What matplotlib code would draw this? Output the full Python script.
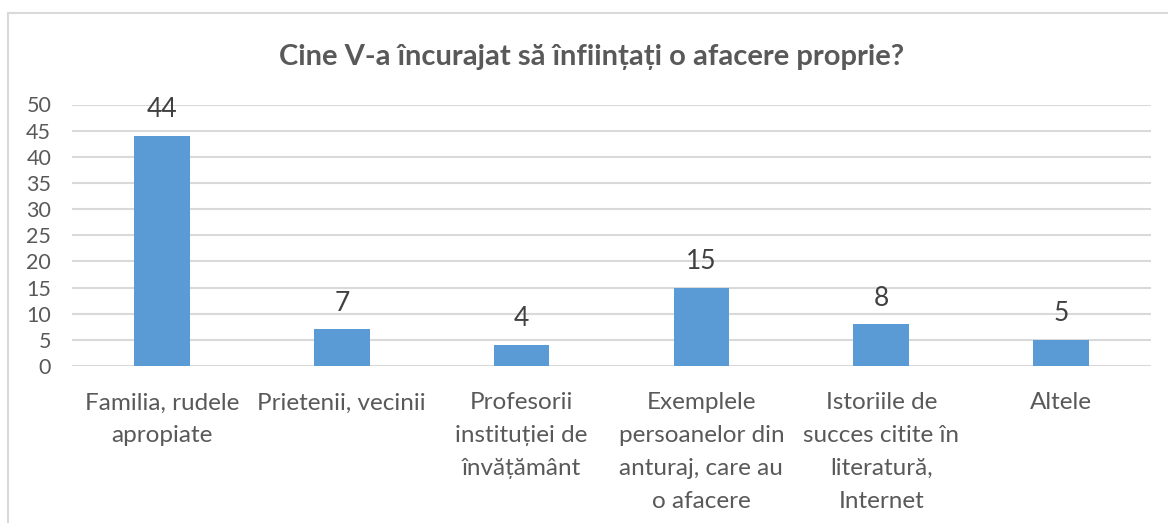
import matplotlib.pyplot as plt
from matplotlib.lines import Line2D

categories = [
    "Familia, rudele\napropiate",
    "Prietenii, vecinii",
    "Profesorii\ninstituției de\nînvățământ",
    "Exemplele\npersoanelor din\nanturaj, care au\no afacere",
    "Istoriile de\nsucces citite în\nliteratură,\nInternet",
    "Altele",
]
values = [44, 7, 4, 15, 8, 5]
yticks = [0, 5, 10, 15, 20, 25, 30, 35, 40, 45, 50]
title = "Cine V-a încurajat să înființați o afacere proprie?"

plt.rcParams['font.family'] = ['Lato', 'DejaVu Sans']

W, H = 1168, 523
fig = plt.figure(figsize=(W / 100, H / 100), dpi=100)
ax = fig.add_axes([72 / W, 1 - 366 / H, 1079 / W, 261.5 / H])

x = list(range(len(values)))
bars = ax.bar(x, values, width=0.31, color='#5B9BD5', zorder=2)
for b, v in zip(bars, values):
    ax.text(b.get_x() + b.get_width() / 2, v + 2.6, str(v), ha='center', va='bottom',
            fontsize=19, color='#404040')

ax.set_xlim(-0.5, len(values) - 0.5)
ax.set_ylim(0, 50)
ax.set_yticks(yticks)
ax.set_xticks(x)
ax.set_xticklabels(categories, fontsize=17.5, color='#595959', linespacing=1.7, va='top')
ax.tick_params(axis='y', labelsize=15.5, colors='#595959', length=0, pad=15)
ax.tick_params(axis='x', length=0, pad=19)
ax.yaxis.grid(True, color='#D9D9D9', linewidth=1.5, zorder=0)
for s in ax.spines.values():
    s.set_visible(False)

fig.text(592 / W, 1 - 57 / H, title, ha='center', va='center', fontsize=21,
         fontweight='bold', color='#595959')

# chart border (top and left visible)
fig.add_artist(Line2D([8 / W, 1], [1 - 12.5 / H, 1 - 12.5 / H], color='#D9D9D9', lw=1.5,
                      transform=fig.transFigure))
fig.add_artist(Line2D([8 / W, 8 / W], [0, 1 - 12.5 / H], color='#D9D9D9', lw=1.5,
                      transform=fig.transFigure))

fig.savefig("out.png", dpi=100)
